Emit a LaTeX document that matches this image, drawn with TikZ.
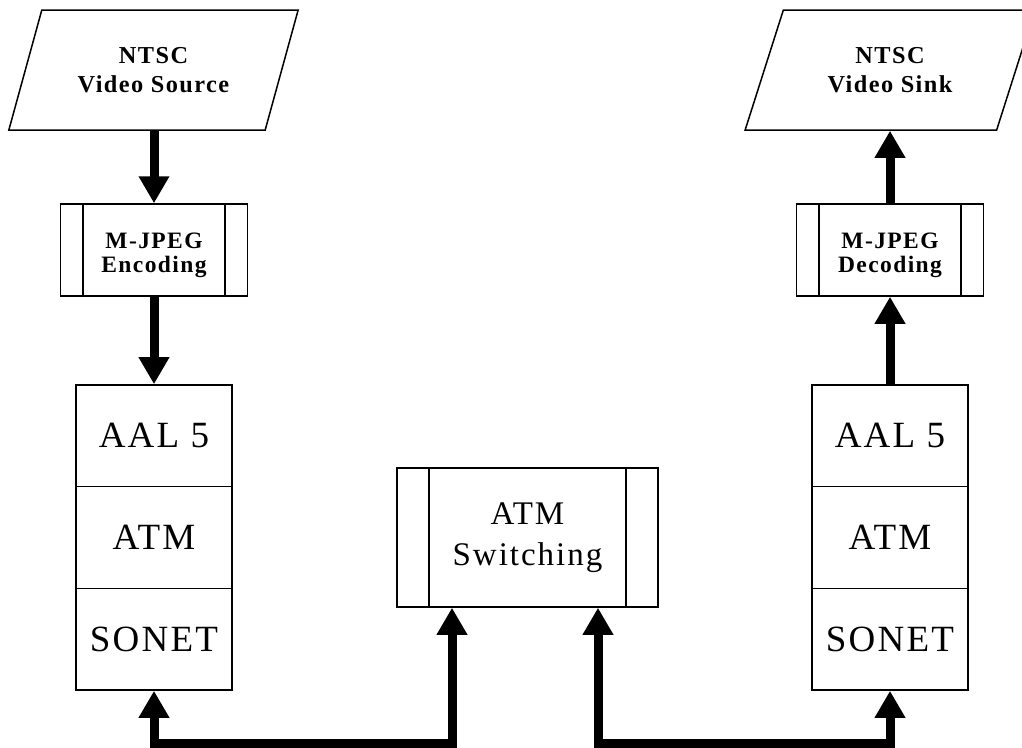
\documentclass[tikz,border=0pt]{standalone}
\usepackage{fontspec}
\setmainfont{Liberation Serif}
\newfontfamily\spaced[LetterSpace=6]{Liberation Serif}
\usetikzlibrary{arrows.meta,shapes.geometric}

\begin{document}
\begin{tikzpicture}[x=1pt,y=-1pt,
  frame/.style={line width=1.5pt},
  boxed/.style={draw, frame, fill=white, inner sep=0pt, align=center},
  caption/.style={inner sep=0pt, align=center},
  slanted/.style={boxed, trapezium, trapezium left angle=63.8,
    trapezium right angle=116.2, trapezium stretches=true,
    minimum width=290pt, minimum height=120pt,
    font=\spaced\bfseries\fontsize{24.3}{29}\selectfont},
  proc/.style={boxed, path picture={
    \draw[frame] ([xshift=#1]path picture bounding box.north west)
      -- ([xshift=#1]path picture bounding box.south west);
    \draw[frame] ([xshift=-#1]path picture bounding box.north east)
      -- ([xshift=-#1]path picture bounding box.south east);}},
  codec/.style={proc=22.5pt, minimum width=187pt, minimum height=92pt},
  codectext/.style={caption, font=\spaced\bfseries\fontsize{23.5}{24}\selectfont},
  layer/.style={boxed, minimum width=156pt, minimum height=101.7pt,
    font=\spaced\fontsize{37}{44}\selectfont},
  flow/.style={line width=9pt, line join=miter, -{Triangle[length=27pt, width=29pt]}},
  link/.style={line width=9pt, line join=miter,
    {Triangle[length=27pt, width=29pt]}-{Triangle[length=27pt, width=29pt]}},
]
\useasboundingbox (0,0) rectangle (1022,747);
\clip (0,0) rectangle (1022,747);
\fill[white] (0,0) rectangle (1022,747);

% sources and sinks
\node[slanted] (src) at (153.5,70) {NTSC\\Video Source};
\node[slanted] (snk) at (890,70) {NTSC\\Video Sink};

% codecs
\node[codec] (enc) at (154,250) {};
\node[codectext] (encT) at ([yshift=-5pt]enc.center) {M-JPEG\\Encoding};
\node[codec] (dec) at (890,250) {};
\node[codectext] (decT) at ([yshift=-5pt]dec.center) {M-JPEG\\Decoding};

% protocol stacks
\node[layer] (aalL) at (154,435.8) {AAL 5};
\node[layer] (atmL) at (154,537.5) {ATM};
\node[layer] (sonL) at (154,639.2) {SONET};
\node[layer] (aalR) at (890,435.8) {AAL 5};
\node[layer] (atmR) at (890,537.5) {ATM};
\node[layer] (sonR) at (890,639.2) {SONET};

% switch
\node[proc=32pt, minimum width=261pt, minimum height=139pt,
  font=\spaced\fontsize{33}{41}\selectfont] (sw) at (527.5,537.5) {ATM\\Switching};

% vertical data flow
\draw[flow] (src.south -| enc.north) -- (enc.north);
\draw[flow] (enc.south) -- (aalL.north);
\draw[flow] (aalR.north) -- (dec.south);
\draw[flow] (dec.north) -- (dec.north |- snk.south);

% physical links through the switch
\coordinate (swIn1) at ([xshift=-75.5pt]sw.south);
\coordinate (swIn2) at ([xshift=70.5pt]sw.south);
\coordinate (bus) at (0,743);
\draw[link] (sonL.south) -- (sonL.south |- bus) -- (swIn1 |- bus) -- (swIn1);
\draw[link] (swIn2) -- (swIn2 |- bus) -- (sonR.south |- bus) -- (sonR.south);
\end{tikzpicture}
\end{document}
